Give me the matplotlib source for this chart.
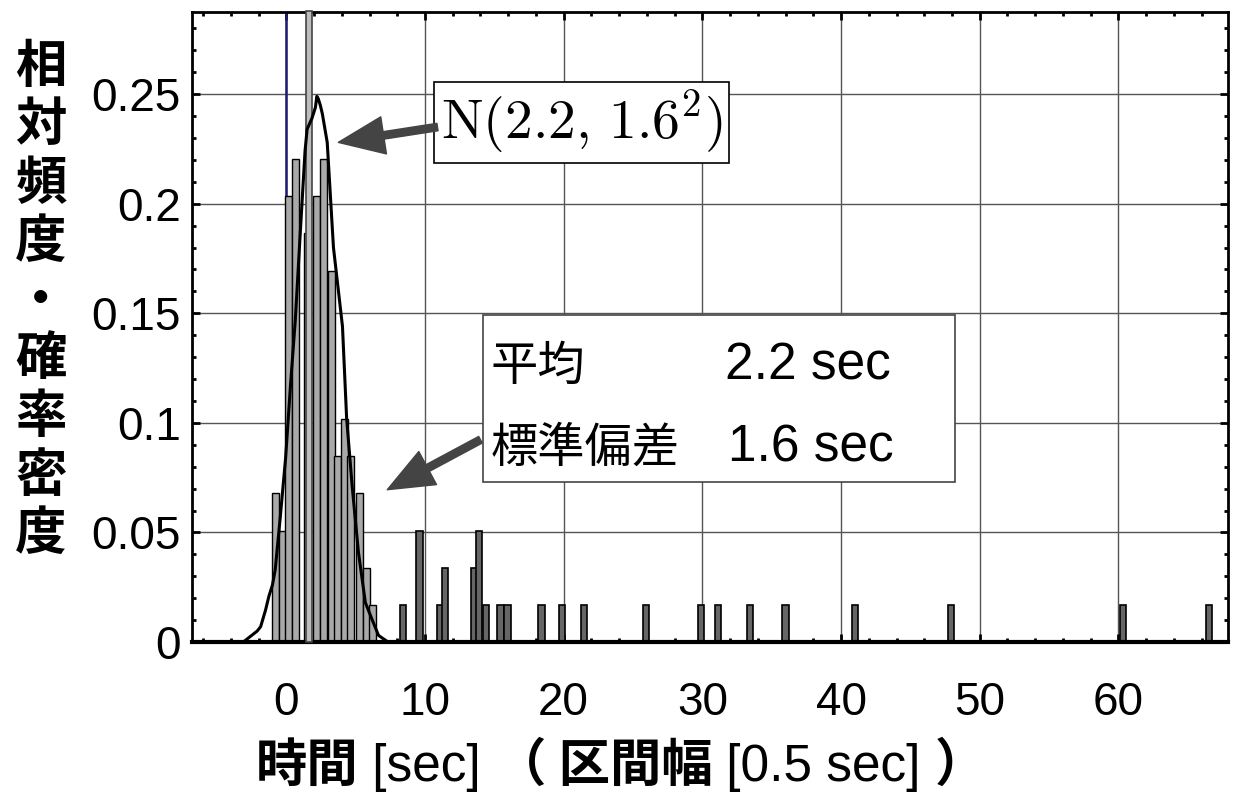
import matplotlib
matplotlib.use('Agg')
import matplotlib.pyplot as plt
from matplotlib.ticker import MultipleLocator
from matplotlib.patches import Rectangle
from matplotlib.offsetbox import TextArea, HPacker, AnchoredOffsetbox
import numpy as np

plt.rcParams['font.family'] = ['Liberation Sans', 'Noto Sans CJK JP']
plt.rcParams['mathtext.fontset'] = 'cm'

# Data
n_total = 59
peak_x = [-0.79, -0.30, 0.18, 0.67, 1.50, 1.65, 2.15, 2.70, 3.25, 3.72, 4.17, 4.60, 5.27, 5.76, 6.22]
peak_counts = [4, 3, 12, 13, 11, 17, 12, 13, 10, 5, 6, 5, 4, 2, 1]
tail_x = [8.4, 9.6, 11.1, 11.45, 13.55, 13.9, 14.4, 15.45, 15.95, 18.4, 19.9, 21.45,
          25.95, 29.9, 31.1, 33.45, 36.0, 41.0, 47.95, 60.35, 66.55]
tail_counts = [1, 3, 1, 2, 2, 3, 1, 1, 1, 1, 1, 1, 1, 1, 1, 1, 1, 1, 1, 1, 1]

# normal curve N(2.2, 1.6^2)
curve_x = [-3.1, -2.6, -2.1, -1.85, -1.5, -1.25, -1.0, -0.8, -0.45, -0.05, 0.3, 0.65, 1.0,
           1.35, 1.5, 1.85, 2.1, 2.2, 2.3, 2.45, 2.6, 2.95, 3.4, 4.05, 4.35, 4.75, 5.2,
           5.7, 6.2, 6.65, 7.15]
curve_y = [0.0, 0.0025, 0.005, 0.007, 0.0145, 0.021, 0.026, 0.033, 0.056, 0.084, 0.117,
           0.147, 0.186, 0.224, 0.234, 0.239, 0.244, 0.249, 0.248, 0.245, 0.241, 0.228,
           0.18, 0.144, 0.102, 0.071, 0.041, 0.018, 0.010, 0.003, 0.0008]

bin_width = 0.5
mean_label = '2.2 sec'
sd_label = '1.6 sec'

fig = plt.figure(figsize=(12.39, 7.99), dpi=100)
ax = fig.add_axes([192/1239, 157/799, 1036/1239, 630/799])

# Grid and x=0 line
ax.set_axisbelow(True)
ax.grid(True, which='major', color='#555555', lw=1.0)
ax.axvline(0, color='#1c1c78', lw=1.8, zorder=1)

# Histogram bars
heights = np.array(peak_counts) / n_total
for x, h in zip(peak_x, heights):
    if h > 0.28:
        ax.bar(x, h, width=bin_width*0.8, color='#bdbdbd', edgecolor='#444444',
               lw=1.2, zorder=3, clip_on=False)
    else:
        ax.bar(x, h, width=bin_width, color='#a9a9a9', edgecolor='black',
               lw=1.0, zorder=2)
ax.bar(tail_x, np.array(tail_counts) / n_total, width=bin_width*0.9, color='#666666',
       edgecolor='black', lw=1.2, zorder=2)

# Normal curve
ax.plot(curve_x, curve_y, color='black', lw=2.2, zorder=4)

# Axes format
ax.set_xlim(-6.8, 67.9)
ax.set_ylim(0, 0.2875)
ax.set_xticks([0, 10, 20, 30, 40, 50, 60])
ax.set_yticks([0, 0.05, 0.1, 0.15, 0.2, 0.25])
ax.set_yticklabels(['0', '0.05', '0.1', '0.15', '0.2', '0.25'])
ax.xaxis.set_minor_locator(MultipleLocator(2))
ax.yaxis.set_minor_locator(MultipleLocator(0.01))
ax.tick_params(which='both', direction='in', top=True, right=True, width=2, labelsize=33)
ax.tick_params(which='major', length=6)
ax.tick_params(which='minor', length=3)
ax.tick_params(axis='x', pad=28)
ax.tick_params(axis='y', pad=8)
for s in ax.spines.values():
    s.set_linewidth(2.0)
ax.spines['bottom'].set_linewidth(3.0)

# Annotation: normal distribution label
ax.text(21.3, 0.237, r'$\mathrm{N}(2.2,\,1.6^2)$', ha='center', va='center', fontsize=40,
        zorder=6, bbox=dict(boxstyle='square,pad=0.12', fc='white', ec='black', lw=1.2))
ax.annotate('', xy=(3.75, 0.228), xytext=(10.9, 0.235), zorder=6,
            arrowprops=dict(arrowstyle='simple,head_length=1.1,head_width=0.9,tail_width=0.18',
                            fc='#444444', ec='#444444', mutation_scale=30, shrinkA=0, shrinkB=0))

# Annotation: mean / std box
ax.add_patch(Rectangle((14.2, 0.0731), 34.0, 0.0763, fc='white', ec='#444444', lw=1.2, zorder=5))
ax.text(14.7, 0.1197, '平均', fontsize=34, zorder=6, va='baseline')
ax.text(31.65, 0.1197, mean_label, fontsize=37, zorder=6, va='baseline')
ax.text(14.7, 0.0823, '標準偏差', fontsize=34, zorder=6, va='baseline')
ax.text(31.85, 0.0823, sd_label, fontsize=37, zorder=6, va='baseline')
ax.annotate('', xy=(7.28, 0.0695), xytext=(14.0, 0.0923), zorder=6,
            arrowprops=dict(arrowstyle='simple,head_length=1.1,head_width=0.9,tail_width=0.18',
                            fc='#444444', ec='#444444', mutation_scale=30, shrinkA=0, shrinkB=0))

# Y label, stacked characters
fig.text(41/1239, 1 - 300/799, '\n'.join('相対頻度・確率密度'), fontsize=37,
         fontweight='bold', family=['Noto Sans CJK JP'], ha='center', va='center',
         linespacing=1.13)

# X label with mixed weights
bold = dict(fontsize=37, fontweight='bold', family=['Noto Sans CJK JP'])
plain = dict(fontsize=37, family=['Liberation Sans Narrow', 'Liberation Sans'])
parts = [TextArea('時間', textprops=bold), TextArea(' [sec] ', textprops=plain),
         TextArea('（', textprops=bold), TextArea(' 区間幅', textprops=bold),
         TextArea(' [0.5 sec] ', textprops=plain), TextArea('）', textprops=bold)]
pack = HPacker(children=parts, align='baseline', pad=0, sep=0)
box = AnchoredOffsetbox(loc='center', child=pack, frameon=False, pad=0, borderpad=0,
                        bbox_to_anchor=(621/1239, 1 - 765/799), bbox_transform=fig.transFigure)
fig.add_artist(box)

fig.savefig('out.png', dpi=100)
